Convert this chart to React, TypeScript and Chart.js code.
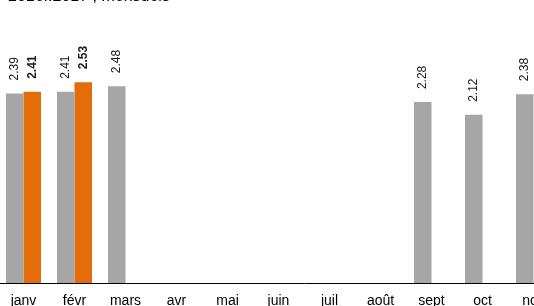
import React, { useEffect, useRef } from "react";
import { Chart, registerables } from "chart.js";

Chart.register(...registerables);

const months = ["janv", "févr", "mars", "avr", "mai", "juin", "juil", "août", "sept", "oct", "nov", "déc"];
const series2016 = [2.39, 2.41, 2.48, null, null, null, null, null, 2.28, 2.12, 2.38, null];
const series2017 = [2.41, 2.53, null, null, null, null, null, null, null, null, null, null];
const titleText = "2016..2017 , mensuels";

const FONT = "'Liberation Sans', Arial, sans-serif";

const labelPlugin = {
  id: "valueLabels",
  afterDatasetsDraw(chart: any) {
    const ctx = chart.ctx;
    chart.data.datasets.forEach((ds: any, di: number) => {
      const meta = chart.getDatasetMeta(di);
      meta.data.forEach((bar: any, i: number) => {
        const v = ds.data[i];
        if (v === null || v === undefined) return;
        ctx.save();
        ctx.translate(bar.x, bar.y - 13);
        ctx.rotate(-Math.PI / 2);
        ctx.font = (di === 1 ? "bold " : "") + "12px " + FONT;
        ctx.fillStyle = "#1a1a1a";
        ctx.textAlign = "left";
        ctx.textBaseline = "middle";
        ctx.fillText(v.toFixed(2), 0, 0);
        ctx.restore();
      });
    });
  },
};

const titlePlugin = {
  id: "topTitle",
  afterDraw(chart: any) {
    const ctx = chart.ctx;
    ctx.save();
    ctx.font = "16px " + FONT;
    ctx.fillStyle = "#000";
    ctx.textAlign = "left";
    ctx.textBaseline = "alphabetic";
    ctx.fillText(titleText, 10, 41);
    ctx.restore();
  },
};

export default function App() {
  const ref = useRef<HTMLCanvasElement>(null);
  useEffect(() => {
    if (!ref.current) return;
    const chart = new Chart(ref.current, {
      type: "bar",
      data: {
        labels: months,
        datasets: [
          { label: "2016", data: series2016, backgroundColor: "#a6a6a6", categoryPercentage: 0.686, barPercentage: 1 },
          { label: "2017", data: series2017, backgroundColor: "#e46c0a", categoryPercentage: 0.686, barPercentage: 1 },
        ],
      },
      options: {
        animation: false,
        responsive: false,
        devicePixelRatio: 1,
        layout: { padding: { top: 85, left: 0, right: 0, bottom: 0 } },
        plugins: { legend: { display: false }, tooltip: { enabled: false }, title: { display: false } },
        scales: {
          x: {
            grid: { display: false, drawTicks: false },
            border: { display: true, color: "#000", width: 1 },
            ticks: { color: "#000", font: { family: FONT, size: 14 }, padding: 10, maxRotation: 0, autoSkip: false },
            afterFit: (s: any) => { s.height = 40; },
          },
          y: { display: false, min: 0, max: 3 },
        },
      },
      plugins: [labelPlugin, titlePlugin],
    });
    return () => chart.destroy();
  }, []);
  return (
    <div style={{ position: "fixed", left: 0, top: 0, width: 534, height: 306, overflow: "hidden", background: "#fff" }}>
      <div style={{ position: "absolute", left: -2, top: -40, width: 612, height: 363 }}>
        <canvas ref={ref} width={612} height={363} style={{ display: "block" }} />
      </div>
    </div>
  );
}
